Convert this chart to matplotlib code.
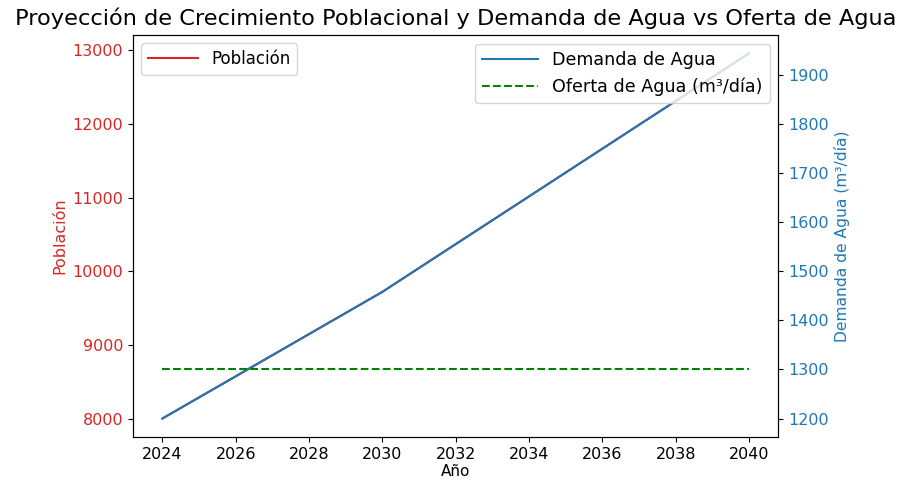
import matplotlib
matplotlib.use("Agg")
import matplotlib.pyplot as plt

years = [2024, 2030, 2040]
poblacion = [8000, 9720, 12960]
demanda = [1200, 1458, 1944]
oferta = [1300, 1300, 1300]

fig = plt.figure(figsize=(9.05, 4.8), dpi=100)
ax1 = fig.add_axes([0.147, 0.09, 0.713, 0.837])
ax2 = ax1.twinx()

red = "tab:red"
blue = "tab:blue"

ax1.plot(years, poblacion, color=red, label="Población")
ax2.plot(years, demanda, color=blue, label="Demanda de Agua")
ax2.plot(years, oferta, color="green", linestyle="--", label="Oferta de Agua (m³/día)")

ax1.set_xlabel("Año", fontsize=11, labelpad=2)
ax1.set_ylabel("Población", color=red, fontsize=11.5)
ax2.set_ylabel("Demanda de Agua (m³/día)", color=blue, fontsize=11.2)
ax1.tick_params(axis="y", labelcolor=red, labelsize=11.5)
ax2.tick_params(axis="y", labelcolor=blue, labelsize=11.5)
ax1.tick_params(axis="x", labelsize=11.5)
ax1.set_xticks(list(range(2024, 2041, 2)))

ax1.set_title("Proyección de Crecimiento Poblacional y Demanda de Agua vs Oferta de Agua",
              fontsize=16.2, pad=7)
ax1.legend(loc="upper left", fontsize=12, handlelength=3)
ax2.legend(loc="upper right", fontsize=12.6, handlelength=3.2)

fig.savefig("out.png", dpi=100)
